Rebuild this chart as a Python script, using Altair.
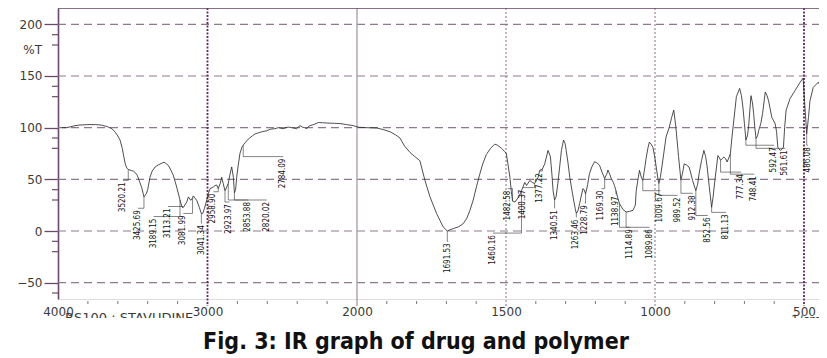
import altair as alt
import pandas as pd

# ---------------- data ----------------
wn = [3975, 3940, 3900, 3860, 3800, 3750, 3710, 3670, 3640, 3619, 3600, 3585, 3570, 3560, 3550,
      3540, 3530, 3510, 3496, 3480, 3470, 3455, 3440, 3425, 3410, 3400, 3385, 3370, 3350, 3329,
      3300, 3290, 3275, 3262, 3245, 3229, 3206, 3184, 3170, 3160, 3148, 3139, 3128, 3118, 3112,
      3100, 3095, 3085, 3072, 3055, 3041, 3032, 3020, 3005, 2995, 2983, 2970, 2961, 2950, 2938,
      2928, 2915, 2905, 2895, 2883, 2870, 2861, 2848, 2838, 2827, 2820, 2812, 2805, 2795, 2783,
      2770, 2761, 2745, 2727, 2700, 2682, 2660, 2637, 2604, 2580, 2550, 2526, 2510, 2493, 2475,
      2460, 2437, 2420, 2404, 2390, 2381, 2365, 2350, 2336, 2325, 2314, 2290, 2258, 2230, 2203,
      2150, 2114, 2070, 2025, 1997, 1970, 1934, 1910, 1889, 1870, 1856, 1840, 1822, 1806, 1789,
      1772, 1755, 1733, 1711, 1697, 1690, 1677, 1660, 1644, 1632, 1621, 1610, 1599, 1588, 1578,
      1566, 1552, 1538, 1528, 1515, 1505, 1499, 1492, 1487, 1482, 1478, 1470, 1465, 1455, 1448,
      1437, 1431, 1420, 1412, 1404, 1392, 1387, 1378, 1370, 1359, 1351, 1346, 1342, 1337, 1332,
      1326, 1320, 1314, 1307, 1302, 1298, 1292, 1286, 1275, 1268, 1264, 1258, 1253, 1242, 1238,
      1233, 1226, 1220, 1212, 1203, 1195, 1186, 1178, 1169, 1162, 1158, 1152, 1147, 1140, 1136,
      1131, 1125, 1119, 1108, 1097, 1085, 1074, 1066, 1063, 1056, 1052, 1046, 1041, 1035, 1030,
      1024, 1019, 1013, 1007, 1001, 996, 990, 987, 982, 974, 963, 952, 944, 937, 930,
      921, 913, 907, 902, 895, 886, 880, 874, 863, 857, 852, 844, 836, 830, 825,
      818, 810, 805, 799, 789, 784, 780, 774, 769, 763, 758, 752, 747, 742, 738,
      727, 716, 710, 705, 700, 695, 690, 686, 678, 673, 669, 665, 661, 656, 652,
      645, 639, 630, 624, 619, 608, 597, 592, 588, 580, 574, 569, 565, 560, 547,
      530, 513, 503, 498, 491, 485, 480, 469, 452, 443, 436, 429]
tr = [100, 100, 101.5, 102.5, 103, 103, 102.5, 101, 99, 96, 92, 88, 80, 72, 65,
      61, 59.5, 58.5, 58, 56, 54, 48, 42, 33, 36, 40, 52, 58, 62, 64,
      66, 66.5, 65, 63.5, 59, 54, 42.5, 30, 23, 23, 26, 28, 33, 31, 29.7,
      32, 34, 32, 29.7, 23, 16.8, 17, 22, 30, 36, 41, 42, 42.6, 44, 44.5,
      41, 46, 52, 46, 39, 43, 46, 56, 62, 52, 37, 40, 52, 63, 75,
      81, 83, 86, 89, 92, 94, 95, 96, 97, 98.5, 99, 100, 99.5, 99, 100,
      100.6, 100, 99.5, 99, 101, 102, 100.5, 100, 99, 101, 102, 103, 105, 104.8, 104.5,
      104.2, 104, 103, 102, 100.5, 100, 99.7, 98, 96, 93, 90, 82, 76, 72, 68,
      49, 33, 17, 4, 0, 1, 2.3, 4, 7, 12, 20, 30, 43, 55, 65,
      74, 80, 84, 83, 80, 77, 75, 62, 52, 38, 29, 28, 30, 34, 39,
      47, 44, 49, 47, 46, 52, 58.7, 60, 65, 78, 72, 55, 39, 30, 33,
      46, 62, 78, 88, 85, 78, 66, 52, 33, 22, 17, 20, 26.5, 41, 40,
      36, 45, 55.5, 62, 67, 66, 63.6, 57, 51, 55, 59, 55, 51, 47, 44,
      39, 32, 26.5, 21, 18.4, 19, 20, 25, 39, 52, 58.7, 52, 49, 60, 70,
      80, 86, 84, 81, 72, 62, 50, 46, 52, 68, 91, 100.6, 110, 117, 100.6,
      72, 49, 57, 65, 64, 62, 56, 49, 39, 45, 55.5, 68, 78, 72, 62,
      43, 23, 33, 49, 73, 71, 68.4, 70, 71.6, 70, 66.8, 71, 75, 90, 100.6,
      130, 138, 131, 120, 104, 88, 92, 100.6, 131, 124, 113.6, 100, 89.4, 92, 97.4,
      104, 113.6, 134.5, 131, 126, 110, 104, 96, 81, 78, 79, 81, 100, 117, 128,
      136, 144, 148, 125, 94, 110, 126, 139, 144, 139, 97, 58]

# peak labels
lab_text = ["3520.21", "3425.69", "3189.15", "3113.21", "3081.99", "3041.34", "2958.90",
            "2923.97", "2853.88", "2820.02", "2784.09", "1691.53", "1482.58", "1460.16",
            "1400.37", "1377.22", "1340.51", "1263.46", "1228.79", "1169.30", "1138.97",
            "1114.89", "1089.86", "1009.67", "989.52", "912.38", "852.56", "811.13",
            "777.34", "748.41", "592.47", "561.61", "486.08"]
lab_peak_wn = [3530, 3425, 3184, 3165, 3100, 3041, 2928, 2883, 2861, 2820, 2761, 1697, 1478, 1448,
               1404, 1378, 1337, 1264, 1233, 1169, 1131, 1119, 1097, 1041, 987, 913, 863, 810,
               780, 747, 695, 661, 491]
lab_peak_t = [59.5, 33, 30, 23, 32, 16.8, 41, 39, 46, 37, 83, 0, 29, 39,
              46, 60, 30, 17, 36, 51, 39, 26.5, 18.4, 49, 46, 49, 39, 23,
              68.4, 75, 88, 89.4, 94]
lab_wn = [3565, 3465, 3361, 3264, 3162, 3039, 2961, 2854, 2727, 2604, 2493, 1694, 1494, 1544,
          1443, 1387, 1337, 1264, 1236, 1180, 1130, 1085, 1018, 982, 924, 873, 823, 762,
          711, 667, 600, 563, 487]
lab_t = [49, 22, 14, 23.7, 17, 7.5, 38, 28, 30, 30, 72, -10, 41, -2,
         42, 58, 22, 13, 27, 41, 35.5, 3.6, 3.6, 39, 34.5, 36.5, 15, 18,
         57, 55, 83, 80, 83]

y_major = [-50, 0, 50, 100, 150, 200]
y_minor = [190, 180, 140, 130, 90, 80, 40, 30, -10, -20, -60]
x_labels = [4000, 3000, 2000, 1500, 1000, 500]
x_minor = [3800, 3600, 3400, 3200, 2800, 2600, 2400, 2200, 1900, 1800, 1700, 1600,
           1400, 1300, 1200, 1100, 900, 800, 700, 600]
v_solid = [2000]
v_dot_dark = [3000, 500]
v_dot_light = [1500, 1000]

# ---------------- layout ----------------
W, H = 761, 291
xscale = alt.Scale(domain=[4000, 2000, 449.7], range=[0, 299, W], zero=False, nice=False)
yscale = alt.Scale(domain=[-65.8, 215.8], zero=False, nice=False)
PURPLE = "#6a4a6a"
AXFONT = "DejaVu Sans"
NARROW = "Liberation Sans Narrow, DejaVu Sans Condensed, sans-serif"

spec = pd.DataFrame({"wn": wn, "T": tr})
labs = pd.DataFrame({"txt": lab_text, "pw": lab_peak_wn, "pt": lab_peak_t,
                     "lw": lab_wn, "lt": lab_t})
one = pd.DataFrame({"a": [0]})

yaxis = alt.Axis(values=y_major, format="d", tickSize=14, tickColor=PURPLE, tickWidth=1.3,
                 domainColor=PURPLE, domainWidth=1.6, labelPadding=2, labelFont=AXFONT,
                 labelFontSize=12, labelColor="#3a3a3a", grid=False, title=None)
xaxis = alt.Axis(values=x_labels, format="d", ticks=False, tickSize=0, domain=False, grid=False,
                 labelPadding=12, labelBaseline="middle", labelFlush=False, labelOverlap=False,
                 labelFont=AXFONT, labelFontSize=12, labelColor="#3a3a3a", title=None)


def X(field="wn"):
    return alt.X(f"{field}:Q", scale=xscale, axis=xaxis, title=None)


def Y(field="T"):
    return alt.Y(f"{field}:Q", scale=yscale, axis=yaxis, title=None)


hgrid = alt.Chart(pd.DataFrame({"T": y_major})).mark_rule(
    color="#8d7a8d", strokeDash=[8, 5], strokeWidth=1.2
).encode(y=Y(), x=alt.value(0), x2=alt.value(W))

vsolid = alt.Chart(pd.DataFrame({"wn": v_solid})).mark_rule(
    color="#a898a8", strokeWidth=1.3
).encode(x=X(), y=alt.value(0), y2=alt.value(H + 7))

vdark = alt.Chart(pd.DataFrame({"wn": v_dot_dark})).mark_rule(
    color="#5a2a5a", strokeWidth=1.8, strokeDash=[2, 1.5]
).encode(x=X(), y=alt.value(0), y2=alt.value(H + 7))

vlight = alt.Chart(pd.DataFrame({"wn": v_dot_light})).mark_rule(
    color="#8a6a8a", strokeWidth=1, strokeDash=[2, 2]
).encode(x=X(), y=alt.value(0), y2=alt.value(H + 7))

xminor = alt.Chart(pd.DataFrame({"wn": x_minor})).mark_rule(
    color="#777777", strokeWidth=1
).encode(x=X(), y=alt.value(H + 2), y2=alt.value(H + 5))

yminor = alt.Chart(pd.DataFrame({"T": y_minor})).mark_rule(
    color=PURPLE, strokeWidth=1.2
).encode(y=Y(), x=alt.value(-6), x2=alt.value(0))

topline = alt.Chart(one).mark_rule(color=PURPLE, strokeWidth=1.6).encode(
    y=alt.value(0), x=alt.value(0), x2=alt.value(W))

curve = alt.Chart(spec).mark_line(color="#222222", strokeWidth=0.8, clip=True).encode(
    x=X(), y=Y(), order="idx:Q"
).transform_window(idx="row_number()")

lead_v = alt.Chart(labs).mark_rule(color="#333333", strokeWidth=0.6).encode(
    x=X("pw"), y=Y("pt"), y2="lt:Q")
lead_h = alt.Chart(labs).mark_rule(color="#333333", strokeWidth=0.6).encode(
    x=X("pw"), x2="lw:Q", y=Y("lt"))

labtext = alt.Chart(labs).mark_text(
    angle=270, align="right", baseline="middle", dx=-2, font=NARROW, fontSize=8, color="#111111"
).encode(x=X("lw"), y=Y("lt"), text="txt:N")

pct = alt.Chart(pd.DataFrame({"T": [175]})).mark_text(
    align="right", baseline="middle", font=AXFONT, fontSize=12, color="#3a3a3a"
).encode(y=Y(), x=alt.value(-16), text=alt.value("%T"))

rs = alt.Chart(one).mark_text(
    align="left", baseline="alphabetic", font=AXFONT, fontSize=13, color="#3a3a3a"
).encode(x=alt.value(7), y=alt.value(H + 23), text=alt.value("RS100 : STAVUDINE"))

unit = alt.Chart(one).mark_text(
    align="left", baseline="alphabetic", font=AXFONT, fontSize=12, color="#3a3a3a"
).encode(x=alt.value(733), y=alt.value(H + 25), text=alt.value("1/cm"))

mask = alt.Chart(one).mark_rect(color="white").encode(
    x=alt.value(-50), x2=alt.value(W), y=alt.value(H + 19), y2=alt.value(H + 33))

caption = alt.Chart(one).mark_text(
    align="center", baseline="alphabetic", font=NARROW, fontSize=23, fontWeight="bold",
    color="#111111"
).encode(x=alt.value(358), y=alt.value(H + 50), text=alt.value("Fig. 3: IR graph of drug and polymer"))

chart = alt.layer(
    hgrid, vsolid, vdark, vlight, xminor, yminor, topline, curve,
    lead_v, lead_h, labtext, pct, rs, unit, mask, caption
).properties(
    width=W, height=H,
    autosize=alt.AutoSizeParams(type="none"),
    padding={"left": 50, "top": 0, "right": 0, "bottom": 57},
).configure_view(stroke=None).configure(background="white")

chart.save("out.html", embed_options={"renderer": "svg", "actions": False})
